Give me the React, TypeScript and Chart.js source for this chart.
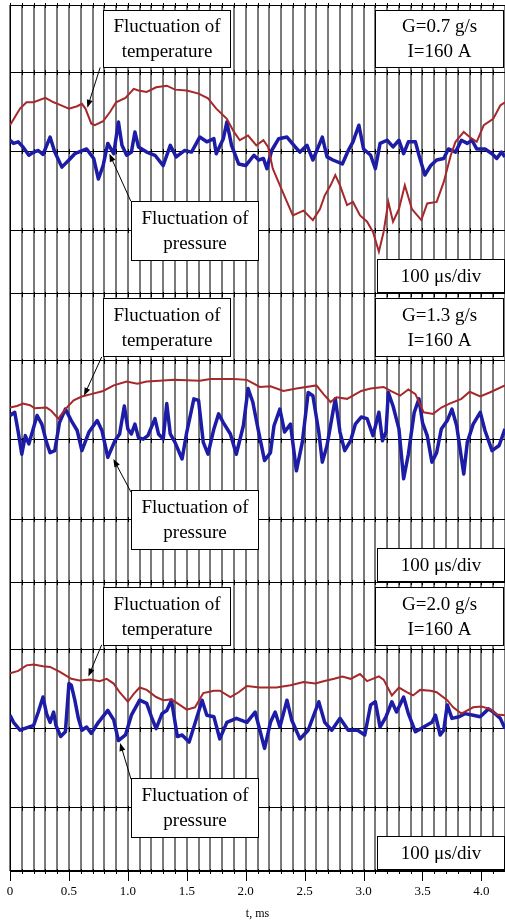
import React, { useEffect, useRef } from "react";
import { Chart, registerables } from "chart.js";

Chart.register(...registerables);

// ---- data: [time in ms, signal in screen divisions] ----
const temperature1: [number, number][] = [
  [0, 0.33], [0.085, 0.54], [0.14, 0.62], [0.2, 0.62], [0.3, 0.675], [0.37, 0.62], [0.42, 0.59], [0.5, 0.54],
  [0.57, 0.57], [0.61, 0.6], [0.64, 0.54], [0.69, 0.35], [0.72, 0.33], [0.79, 0.38], [0.85, 0.5], [0.9, 0.62],
  [0.98, 0.675], [1.05, 0.79], [1.09, 0.77], [1.16, 0.75], [1.24, 0.81], [1.33, 0.83], [1.4, 0.78], [1.5, 0.77],
  [1.6, 0.73], [1.68, 0.67], [1.75, 0.54], [1.84, 0.41], [1.9, 0.245], [1.95, 0.14], [2.02, 0.2], [2.09, 0.076],
  [2.15, 0.14], [2.19, 0.055], [2.23, -0.22], [2.29, -0.43], [2.35, -0.64], [2.4, -0.81], [2.49, -0.75], [2.57, -0.87],
  [2.63, -0.73], [2.67, -0.56], [2.72, -0.43], [2.76, -0.3], [2.8, -0.43], [2.86, -0.68], [2.91, -0.64], [2.97, -0.81],
  [3.03, -0.89], [3.08, -1.02], [3.13, -1.27], [3.17, -1.02], [3.21, -0.64], [3.25, -0.89], [3.3, -0.73], [3.35, -0.43],
  [3.41, -0.73], [3.49, -0.87], [3.54, -0.66], [3.62, -0.64], [3.68, -0.39], [3.74, -0.05], [3.78, 0.12], [3.85, 0.245],
  [3.9, 0.18], [3.96, 0.12], [4.02, 0.33], [4.1, 0.41], [4.16, 0.58], [4.2, 0.62],
];
const pressure1: [number, number][] = [
  [0, 0.14], [0.03, 0.1], [0.07, 0.12], [0.11, 0.055], [0.16, -0.05], [0.2, -0.01], [0.24, 0.01], [0.28, -0.04],
  [0.34, 0.18], [0.38, -0.01], [0.44, -0.2], [0.5, -0.11], [0.55, -0.03], [0.65, 0.03], [0.71, -0.09], [0.75, -0.35],
  [0.79, -0.18], [0.83, 0.1], [0.88, -0.03], [0.92, 0.37], [0.95, 0.076], [0.99, -0.05], [1.03, -0.01], [1.06, 0.245],
  [1.09, 0.055], [1.16, -0.01], [1.23, -0.05], [1.3, -0.18], [1.36, 0.076], [1.41, -0.07], [1.48, 0.01], [1.54, -0.01],
  [1.61, 0.18], [1.67, 0.12], [1.73, 0.16], [1.75, -0.03], [1.81, 0.16], [1.84, 0.37], [1.88, 0.076], [1.94, -0.16],
  [2.0, -0.18], [2.07, -0.05], [2.11, -0.11], [2.15, -0.09], [2.18, -0.22], [2.22, 0.01], [2.28, 0.16], [2.35, 0.18],
  [2.42, 0.055], [2.46, -0.01], [2.52, 0.076], [2.57, -0.11], [2.65, 0.18], [2.69, -0.07], [2.74, -0.11], [2.82, -0.16],
  [2.87, 0.01], [2.91, 0.12], [2.96, 0.33], [3.0, 0.03], [3.06, -0.05], [3.1, -0.22], [3.14, 0.1], [3.2, 0.14],
  [3.25, 0.055], [3.3, 0.14], [3.34, -0.03], [3.38, 0.12], [3.44, 0.12], [3.47, -0.05], [3.52, -0.3], [3.57, -0.18],
  [3.62, -0.11], [3.68, -0.09], [3.72, 0.03], [3.78, -0.01], [3.83, 0.14], [3.88, 0.1], [3.92, 0.14], [3.96, 0.03],
  [4.03, 0.03], [4.09, -0.03], [4.13, -0.09], [4.17, -0.01], [4.2, -0.07],
];
const temperature2: [number, number][] = [
  [0, 0.41], [0.06, 0.43], [0.11, 0.46], [0.17, 0.44], [0.21, 0.4], [0.31, 0.41], [0.35, 0.37], [0.41, 0.27],
  [0.47, 0.39], [0.54, 0.5], [0.61, 0.55], [0.69, 0.58], [0.79, 0.62], [0.88, 0.69], [0.99, 0.74], [1.08, 0.71],
  [1.16, 0.74], [1.27, 0.75], [1.39, 0.76], [1.61, 0.75], [1.7, 0.77], [1.9, 0.77], [2.01, 0.76], [2.12, 0.67],
  [2.21, 0.68], [2.32, 0.62], [2.43, 0.65], [2.6, 0.69], [2.66, 0.58], [2.72, 0.48], [2.77, 0.54], [2.86, 0.52],
  [2.91, 0.56], [2.98, 0.62], [3.06, 0.65], [3.17, 0.67], [3.23, 0.62], [3.31, 0.56], [3.38, 0.64], [3.44, 0.58],
  [3.51, 0.35], [3.59, 0.33], [3.66, 0.41], [3.73, 0.46], [3.83, 0.52], [3.9, 0.61], [3.99, 0.55], [4.07, 0.6],
  [4.2, 0.69],
];
const pressure2: [number, number][] = [
  [0, 0.31], [0.04, 0.35], [0.07, 0.1], [0.1, -0.18], [0.13, 0.055], [0.16, -0.05], [0.18, 0.055], [0.23, 0.31],
  [0.27, 0.2], [0.31, -0.03], [0.34, -0.16], [0.38, -0.135], [0.42, 0.22], [0.47, 0.39], [0.52, 0.245], [0.57, 0.12],
  [0.61, -0.135], [0.67, 0.1], [0.74, 0.245], [0.78, 0.12], [0.83, -0.22], [0.89, -0.01], [0.93, 0.076], [0.97, 0.43],
  [1.0, 0.14], [1.03, 0.076], [1.06, 0.2], [1.09, 0.03], [1.13, 0.01], [1.17, 0.055], [1.23, 0.27], [1.26, 0.076],
  [1.3, 0.01], [1.33, 0.46], [1.36, 0.076], [1.4, -0.03], [1.46, -0.24], [1.5, 0.1], [1.56, 0.52], [1.6, 0.5],
  [1.64, -0.03], [1.68, -0.18], [1.73, 0.14], [1.77, 0.33], [1.81, 0.22], [1.87, 0.076], [1.92, -0.18], [1.98, 0.18],
  [2.02, 0.65], [2.06, 0.48], [2.11, 0.1], [2.16, -0.26], [2.21, -0.16], [2.24, 0.18], [2.29, 0.39], [2.33, 0.1],
  [2.38, 0.2], [2.43, -0.39], [2.48, -0.03], [2.53, 0.6], [2.57, 0.56], [2.62, 0.1], [2.65, -0.28], [2.69, -0.07],
  [2.73, 0.27], [2.76, 0.52], [2.8, 0.1], [2.84, -0.135], [2.89, -0.01], [2.93, 0.2], [2.98, 0.29], [3.03, 0.27],
  [3.08, 0.055], [3.13, 0.35], [3.16, -0.01], [3.19, 0.1], [3.21, 0.6], [3.25, 0.43], [3.3, 0.14], [3.34, -0.49],
  [3.38, -0.18], [3.43, 0.35], [3.47, 0.52], [3.5, 0.22], [3.54, 0.055], [3.58, -0.28], [3.62, -0.16], [3.66, 0.14],
  [3.71, 0.245], [3.75, 0.39], [3.79, 0.18], [3.85, -0.43], [3.88, -0.03], [3.93, 0.2], [3.99, 0.35], [4.03, 0.12],
  [4.09, -0.135], [4.15, -0.07], [4.2, 0.14],
];
const temperature3: [number, number][] = [
  [0, 0.7], [0.07, 0.73], [0.14, 0.8], [0.2, 0.81], [0.28, 0.79], [0.34, 0.78], [0.42, 0.72], [0.52, 0.63],
  [0.59, 0.61], [0.68, 0.62], [0.76, 0.6], [0.82, 0.63], [0.88, 0.57], [0.93, 0.46], [1.0, 0.34], [1.05, 0.44],
  [1.1, 0.52], [1.16, 0.49], [1.24, 0.4], [1.3, 0.36], [1.37, 0.37], [1.44, 0.3], [1.5, 0.24], [1.57, 0.27],
  [1.64, 0.45], [1.73, 0.48], [1.78, 0.48], [1.87, 0.4], [1.94, 0.46], [2.01, 0.54], [2.12, 0.52], [2.26, 0.52],
  [2.38, 0.55], [2.49, 0.59], [2.59, 0.57], [2.66, 0.6], [2.75, 0.63], [2.82, 0.66], [2.89, 0.63], [2.97, 0.69],
  [3.03, 0.6], [3.13, 0.66], [3.17, 0.62], [3.24, 0.42], [3.3, 0.52], [3.37, 0.46], [3.42, 0.42], [3.48, 0.49],
  [3.57, 0.48], [3.62, 0.46], [3.71, 0.36], [3.76, 0.27], [3.83, 0.19], [3.93, 0.27], [4.0, 0.28], [4.07, 0.25],
  [4.13, 0.18], [4.2, 0.17],
];
const pressure3: [number, number][] = [
  [0, 0.17], [0.03, 0.08], [0.085, -0.02], [0.14, 0.01], [0.2, 0.04], [0.24, 0.21], [0.28, 0.4], [0.31, 0.19],
  [0.34, 0.08], [0.37, 0.21], [0.39, 0.04], [0.43, -0.1], [0.47, -0.04], [0.5, 0.57], [0.52, 0.55], [0.55, 0.36],
  [0.58, 0.13], [0.61, -0.02], [0.65, 0.02], [0.69, -0.06], [0.75, 0.08], [0.83, 0.23], [0.88, 0.11], [0.92, -0.15],
  [0.98, -0.08], [1.03, 0.17], [1.1, 0.36], [1.16, 0.32], [1.2, 0.15], [1.24, 0.0], [1.29, 0.19], [1.33, 0.23],
  [1.37, 0.36], [1.42, -0.1], [1.46, -0.08], [1.52, -0.17], [1.56, 0.02], [1.63, 0.36], [1.67, 0.17], [1.73, 0.15],
  [1.78, -0.13], [1.84, 0.08], [1.92, 0.13], [2.01, 0.08], [2.08, 0.21], [2.12, -0.02], [2.16, -0.25], [2.21, 0.08],
  [2.25, 0.21], [2.29, 0.02], [2.35, 0.36], [2.39, 0.11], [2.46, -0.13], [2.53, -0.02], [2.62, 0.34], [2.67, 0.08],
  [2.73, -0.02], [2.8, 0.13], [2.87, -0.02], [2.95, -0.02], [3.01, -0.08], [3.06, 0.3], [3.1, 0.34], [3.14, 0.02],
  [3.19, 0.15], [3.24, 0.34], [3.28, 0.21], [3.34, 0.4], [3.38, 0.19], [3.44, -0.04], [3.51, 0.02], [3.58, 0.08],
  [3.61, 0.17], [3.65, -0.08], [3.68, -0.02], [3.71, 0.3], [3.75, 0.13], [3.81, 0.15], [3.86, 0.19], [3.93, 0.17],
  [3.99, 0.15], [4.06, 0.25], [4.1, 0.21], [4.16, 0.13], [4.2, 0.0],
];

// ---- text ----
const panelTitles = [
  ["G=0.7 g/s", "I=160 A"],
  ["G=1.3 g/s", "I=160 A"],
  ["G=2.0 g/s", "I=160 A"],
];
const temperatureCaption = ["Fluctuation of", "temperature"];
const pressureCaption = ["Fluctuation of", "pressure"];
const sweepCaption = ["100 \u03bcs/div"];
const xTitle = "t, ms";
const xLabelValues = [0, 0.5, 1, 1.5, 2, 2.5, 3, 3.5, 4];
const xLabelTexts = ["0", "0.5", "1.0", "1.5", "2.0", "2.5", "3.0", "3.5", "4.0"];

// ---- axes ----
const X_MIN = 0;
const X_MAX = 4.2;
const X_GRID_STEP = 0.1;
const Y_MIN = -1.8;
const Y_MAX = 1.85;
const yGridValues = [Y_MIN, -1, 0, 1, Y_MAX];
const panelAxisIds = ["yTop", "yMid", "yBot"];

// ---- layout of captions (x in ms, y in panel divisions) ----
const boxLayout = {
  temp: { x0: 0.785, x1: 1.865, yTop: 1.79, yBot: 1.06 },
  pres: { x0: 1.025, x1: 2.105, yTop: -0.63, yBot: -1.375 },
  title: { x0: 3.1, x1: 4.18, yTop: 1.79, yBot: 1.06 },
  sweep: { x0: 3.115, x1: 4.19, yTop: -1.36, yBot: -1.78 },
};
const arrowLayout = [
  { temp: { from: [0.765, 1.06], to: [0.656, 0.55] }, pres: { from: [1.025, -0.63], to: [0.843, -0.03] } },
  { temp: { from: [0.778, 1.05], to: [0.628, 0.56] }, pres: { from: [1.027, -0.66], to: [0.877, -0.24] } },
  { temp: { from: [0.778, 1.06], to: [0.665, 0.66] }, pres: { from: [1.027, -0.64], to: [0.934, -0.18] } },
];

const SERIF = '"Liberation Serif", "Times New Roman", serif';
const RED = "#a6282b";
const BLUE = "#1c1ca6";
const MAJOR_TICK_LEN = 10;
const X_AXIS_HEIGHT = 50;

const captionPlugin = {
  id: "captions",
  beforeDatasetsDraw(chart: any) {
    const ctx = chart.ctx;
    const xs = chart.scales.x;
    ctx.save();
    ctx.strokeStyle = "#000";
    ctx.lineWidth = 1;
    // small cross marks where horizontal divisions meet vertical divisions
    panelAxisIds.forEach((id) => {
      const ys = chart.scales[id];
      yGridValues.forEach((v) => {
        const py = Math.round(ys.getPixelForValue(v)) + 0.5;
        for (let i = 0; i * X_GRID_STEP <= X_MAX + 1e-9; i++) {
          const px = Math.round(xs.getPixelForValue(i * X_GRID_STEP)) + 0.5;
          ctx.beginPath();
          ctx.moveTo(px, py - 2.5);
          ctx.lineTo(px, py + 2.5);
          ctx.stroke();
        }
      });
    });
    // major tick marks below the time axis
    const bottom = Math.round(chart.chartArea.bottom);
    xLabelValues.forEach((v) => {
      const px = Math.round(xs.getPixelForValue(v)) + 0.5;
      ctx.beginPath();
      ctx.moveTo(px, bottom);
      ctx.lineTo(px, bottom + MAJOR_TICK_LEN);
      ctx.stroke();
    });
    ctx.restore();
  },
  afterDatasetsDraw(chart: any) {
    const ctx = chart.ctx;
    const xs = chart.scales.x;
    ctx.save();
    const drawBox = (ys: any, b: any, lines: string[]) => {
      const l = Math.round(xs.getPixelForValue(b.x0)) + 0.5;
      const r = Math.round(xs.getPixelForValue(b.x1)) + 0.5;
      const t = Math.round(ys.getPixelForValue(b.yTop)) + 0.5;
      const bt = Math.round(ys.getPixelForValue(b.yBot)) + 0.5;
      ctx.fillStyle = "#fff";
      ctx.fillRect(l, t, r - l, bt - t);
      ctx.strokeStyle = "#000";
      ctx.lineWidth = 1;
      ctx.strokeRect(l, t, r - l, bt - t);
      ctx.fillStyle = "#000";
      ctx.font = "19px " + SERIF;
      ctx.textAlign = "center";
      ctx.textBaseline = "middle";
      const cx = (l + r) / 2;
      const cy = (t + bt) / 2;
      const gap = 25;
      lines.forEach((s, i) => {
        ctx.fillText(s, cx, cy + (i - (lines.length - 1) / 2) * gap + 1);
      });
    };
    const drawArrow = (ys: any, a: any) => {
      const x1 = xs.getPixelForValue(a.from[0]);
      const y1 = ys.getPixelForValue(a.from[1]);
      const x2 = xs.getPixelForValue(a.to[0]);
      const y2 = ys.getPixelForValue(a.to[1]);
      const ang = Math.atan2(y2 - y1, x2 - x1);
      const len = 8;
      const hw = 3;
      ctx.strokeStyle = "#000";
      ctx.lineWidth = 1;
      ctx.beginPath();
      ctx.moveTo(x1, y1);
      ctx.lineTo(x2 - Math.cos(ang) * len * 0.8, y2 - Math.sin(ang) * len * 0.8);
      ctx.stroke();
      ctx.fillStyle = "#000";
      ctx.beginPath();
      ctx.moveTo(x2, y2);
      ctx.lineTo(x2 - Math.cos(ang) * len - Math.sin(ang) * hw, y2 - Math.sin(ang) * len + Math.cos(ang) * hw);
      ctx.lineTo(x2 - Math.cos(ang) * len + Math.sin(ang) * hw, y2 - Math.sin(ang) * len - Math.cos(ang) * hw);
      ctx.closePath();
      ctx.fill();
    };
    panelAxisIds.forEach((id, p) => {
      const ys = chart.scales[id];
      drawArrow(ys, arrowLayout[p].temp);
      drawArrow(ys, arrowLayout[p].pres);
      drawBox(ys, boxLayout.temp, temperatureCaption);
      drawBox(ys, boxLayout.pres, pressureCaption);
      drawBox(ys, boxLayout.title, panelTitles[p]);
      drawBox(ys, boxLayout.sweep, sweepCaption);
    });
    ctx.restore();
  },
};

export default function App() {
  const ref = useRef<HTMLCanvasElement>(null);

  useEffect(() => {
    const canvas = ref.current;
    if (!canvas) return;
    const toPoints = (arr: [number, number][]) => arr.map(([x, y]) => ({ x, y }));
    const temps = [temperature1, temperature2, temperature3];
    const press = [pressure1, pressure2, pressure3];
    const datasets: any[] = [];
    for (let i = 0; i < 3; i++) {
      datasets.push({
        label: "Fluctuation of temperature",
        data: toPoints(temps[i]),
        yAxisID: panelAxisIds[i],
        borderColor: RED,
        borderWidth: 2,
        pointRadius: 0,
        tension: 0,
        fill: false,
      });
      datasets.push({
        label: "Fluctuation of pressure",
        data: toPoints(press[i]),
        yAxisID: panelAxisIds[i],
        borderColor: BLUE,
        borderWidth: 3.5,
        pointRadius: 0,
        tension: 0,
        fill: false,
        borderJoinStyle: "round",
      });
    }
    const xGridTicks: number[] = [];
    for (let i = 0; i * X_GRID_STEP <= X_MAX + 1e-9; i++) xGridTicks.push(Math.round(i * X_GRID_STEP * 10) / 10);

    const labelFor = (v: number) => {
      const idx = xLabelValues.findIndex((l) => Math.abs(l - v) < 1e-6);
      return idx >= 0 ? xLabelTexts[idx] : "";
    };

    const yAxis = () => ({
      type: "linear",
      position: "left",
      stack: "panels",
      stackWeight: 1,
      min: Y_MIN,
      max: Y_MAX,
      afterBuildTicks: (ax: any) => {
        ax.ticks = yGridValues.map((v) => ({ value: v }));
      },
      ticks: { display: false },
      grid: { color: "#000", lineWidth: 1, drawTicks: false },
      border: { display: true, color: "#000", width: 1 },
    });

    // stacked axes are laid out bottom-up, so the bottom panel is declared first
    const scales: any = {
      x: {
        type: "linear",
        position: "bottom",
        min: X_MIN,
        max: X_MAX,
        afterBuildTicks: (ax: any) => {
          ax.ticks = xGridTicks.map((v) => ({ value: v }));
        },
        afterFit: (ax: any) => {
          ax.height = X_AXIS_HEIGHT;
        },
        ticks: {
          autoSkip: false,
          maxRotation: 0,
          minRotation: 0,
          padding: 0,
          color: "#000",
          font: { family: SERIF, size: 13 },
          callback: (v: any) => labelFor(Number(v)),
        },
        grid: {
          color: "#7a7a7a",
          lineWidth: 2,
          drawTicks: true,
          tickLength: 13,
          tickColor: "rgba(0,0,0,0)",
        },
        border: { display: true, color: "#000", width: 1 },
        title: {
          display: true,
          text: xTitle,
          color: "#000",
          font: { family: SERIF, size: 12 },
          padding: { top: 4, bottom: 0 },
        },
      },
    };
    scales[panelAxisIds[2]] = yAxis();
    scales[panelAxisIds[1]] = yAxis();
    scales[panelAxisIds[0]] = yAxis();

    const chart = new Chart(canvas, {
      type: "line",
      data: { datasets },
      options: {
        animation: false,
        responsive: false,
        maintainAspectRatio: false,
        layout: { autoPadding: false, padding: { left: 10, top: 5, right: 0, bottom: 0 } },
        plugins: { legend: { display: false }, tooltip: { enabled: false } },
        scales,
      },
      plugins: [captionPlugin],
    } as any);
    return () => chart.destroy();
  }, []);

  return (
    <div style={{ position: "fixed", left: 0, top: 0, width: 505, height: 921, background: "#fff" }}>
      <canvas ref={ref} width={505} height={921} style={{ display: "block", width: 505, height: 921 }} />
    </div>
  );
}
